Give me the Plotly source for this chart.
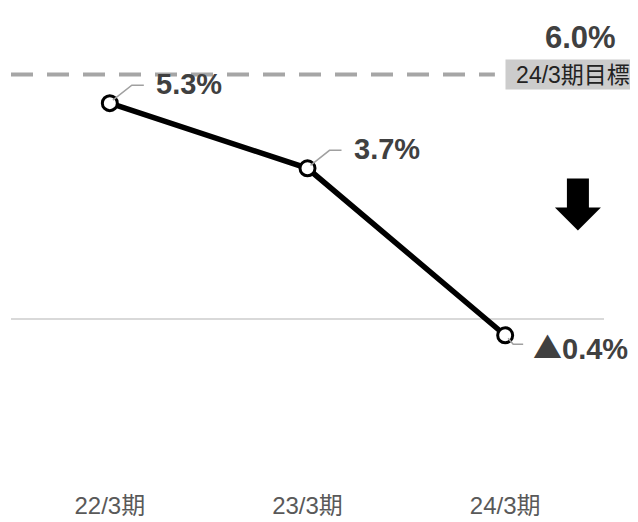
import plotly.graph_objects as go

periods = ["22/3期", "23/3期", "24/3期"]
margin_pct = [5.3, 3.7, -0.4]
value_labels = ["5.3%", "3.7%", "0.4%"]
value_prefix = ["", "", "▲"]
target_pct = 6.0
target_label = "24/3期目標"
target_text = "6.0%"

FONT = "Liberation Sans, Arial, Noto Sans CJK JP, sans-serif"
CJK = "Noto Sans CJK JP"
GREY = "#404040"

fig = go.Figure()
fig.add_trace(go.Scatter(
    x=periods, y=margin_pct, mode="lines+markers",
    line=dict(color="black", width=5.5),
    marker=dict(size=15, color="white", line=dict(color="black", width=3)),
    showlegend=False, hoverinfo="skip",
))

# target line (dashed)
fig.add_shape(type="line", xref="paper", yref="y", x0=0.0, x1=0.816,
              y0=target_pct, y1=target_pct,
              line=dict(color="#a6a6a6", width=4, dash="22px,14px"))
fig.add_annotation(xref="paper", yref="y", x=0.833, y=target_pct, text=target_label,
                   showarrow=False, xanchor="left", yanchor="middle",
                   width=132, height=27, align="center",
                   font=dict(family=FONT, size=23, color="#222"), bgcolor="#cccccc",
                   borderpad=1)
fig.add_annotation(xref="paper", yref="y", x=1.0236, y=target_pct, yshift=37,
                   text="<b>%s</b>" % target_text,
                   showarrow=False, xanchor="right", yanchor="middle",
                   font=dict(family=FONT, size=31, color=GREY))

# leader lines + value labels
for i, (p, v, lab, pre) in enumerate(zip(periods, margin_pct, value_labels, value_prefix)):
    if v >= 0:
        path, xs, ys = "M3,3 L22,18 L34,18", 44, 19
    else:
        path, xs, ys = "M3,-3 L8,-9 L18,-9", 26, -11
    fig.add_shape(type="path", xref="x", yref="y", xsizemode="pixel", ysizemode="pixel",
                  xanchor=p, yanchor=v, path=path,
                  line=dict(color="#a0a0a0", width=1.5))
    txt = "<b>%s</b>" % lab
    if pre:
        txt = '<span style="font-family:%s">%s</span>' % (CJK, pre) + txt
    fig.add_annotation(x=p, y=v, text=txt, showarrow=False,
                       xanchor="left", yanchor="middle", xshift=xs, yshift=ys,
                       font=dict(family=FONT, size=29, color=GREY))

# down arrow
fig.add_shape(type="path", xref="paper", yref="paper", xsizemode="pixel", ysizemode="pixel",
              xanchor=0.956, yanchor=0.564,
              path="M0,0 L-23,23 L-11,23 L-11,52 L11,52 L11,23 L23,23 Z",
              fillcolor="black", line=dict(color="black", width=0))

fig.update_layout(
    width=630, height=514,
    margin=dict(l=3, r=34, t=32, b=42),
    paper_bgcolor="white", plot_bgcolor="white",
    font=dict(family=FONT),
)
fig.update_xaxes(range=[-0.5, 2.5], showgrid=False, showline=False, ticks="",
                 ticklabelstandoff=12,
                 tickfont=dict(size=24, color="#595959", family=FONT))
fig.update_yaxes(range=[-3.88, 6.85], showgrid=False, showticklabels=False,
                 zeroline=True, zerolinecolor="#d9d9d9", zerolinewidth=2)

fig.write_html("out.html")
